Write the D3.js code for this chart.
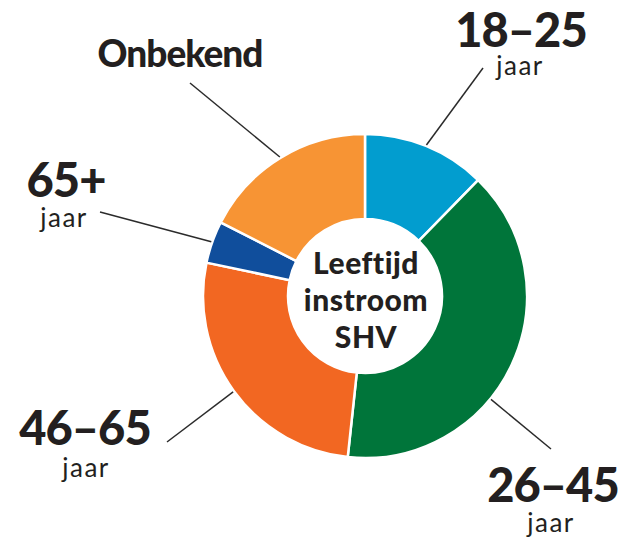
<!DOCTYPE html>
<html lang="nl">
<head>
    <meta charset="UTF-8">
    <title>Leeftijd instroom SHV</title>
    <script src="https://d3js.org/d3.v7.min.js"></script>
    <style>
        body {
            margin: 0;
            background: #fff;
        }
        .label, .center {
            font-family: Lato, sans-serif;
            fill: #231f20;
        }
        .big {
            font-weight: 900;
        }
        .sub {
            font-weight: 400;
        }
        .leader {
            stroke: #2b2b2b;
            stroke-width: 1.5;
            fill: none;
        }
    </style>
</head>
<body>
<div id="chart"></div>
<script>
    // Data (percentages, clockwise from 12 o'clock)
    const categories = ['18–25', '26–45', '46–65', '65+', 'Onbekend'];
    const subLabels = ['jaar', 'jaar', 'jaar', 'jaar', ''];
    const values = [12.3, 39.4, 26.6, 4.2, 17.5];
    const colors = ['#029dcf', '#00753a', '#f26722', '#104e9c', '#f79434'];
    const centerLines = ['Leeftijd', 'instroom', 'SHV'];

    // Layout
    const width = 620, height = 542;
    const cx = 365, cy = 296;
    const outerR = 162, innerR = 77;

    // label placement, relative to the donut centre
    // at: where on the slice the leader starts (0..1), end: leader end,
    // text: label centre + baseline, subDx/subDy: offset of the "jaar" line
    const labelLayout = [
        { at: 0.5, end: [118, -228], text: [156, -249], subDx: -1, subDy: 28, size: 47 },
        { at: 0.6, end: [186, 153], text: [188, 206], subDx: -2, subDy: 30, size: 47 },
        { at: 0.5, end: [-198, 146], text: [-280, 149], subDx: 1, subDy: 32, size: 47 },
        { at: 0.5, end: [-265, -84], text: [-299, -99], subDx: -2, subDy: 30, size: 47 },
        { at: 0.5, end: [-175, -213], text: [-185, -229], subDx: 0, subDy: 0, size: 37 }
    ];

    const svg = d3.select('#chart').append('svg')
        .attr('width', width)
        .attr('height', height);

    const g = svg.append('g')
        .attr('transform', `translate(${cx},${cy})`);

    const pie = d3.pie().sort(null).value(d => d);
    const arcs = pie(values);

    const arc = d3.arc()
        .innerRadius(innerR)
        .outerRadius(outerR);

    g.selectAll('path.slice')
        .data(arcs)
        .enter().append('path')
        .attr('class', 'slice')
        .attr('d', arc)
        .attr('fill', (d, i) => colors[i])
        .attr('stroke', '#fff')
        .attr('stroke-width', 2.5);

    arcs.forEach((d, i) => {
        const L = labelLayout[i];

        // leader line from the outer edge of the slice
        const a = d.startAngle + (d.endAngle - d.startAngle) * L.at;
        const r = outerR + 1;
        g.append('line')
            .attr('class', 'leader')
            .attr('x1', Math.sin(a) * r)
            .attr('y1', -Math.cos(a) * r)
            .attr('x2', L.end[0])
            .attr('y2', L.end[1]);

        // label: big range + small "jaar" underneath, one text element
        const t = g.append('text')
            .attr('class', 'label')
            .attr('text-anchor', 'middle');

        t.append('tspan')
            .attr('class', 'big')
            .attr('x', L.text[0])
            .attr('y', L.text[1])
            .style('font-size', L.size + 'px')
            .style('letter-spacing', '-1px')
            .text(categories[i]);

        if (subLabels[i]) {
            t.append('tspan')
                .attr('class', 'sub')
                .attr('x', L.text[0] + L.subDx)
                .attr('y', L.text[1] + L.subDy)
                .style('font-size', '26px')
                .style('letter-spacing', '1.5px')
                .text(subLabels[i]);
        }
    });

    // centre title
    g.selectAll('text.center')
        .data(centerLines)
        .enter().append('text')
        .attr('class', 'center big')
        .attr('x', 1)
        .attr('y', (d, i) => -22 + i * 37)
        .attr('text-anchor', 'middle')
        .style('font-size', '30px')
        .style('letter-spacing', '0.5px')
        .text(d => d);
</script>
</body>
</html>
